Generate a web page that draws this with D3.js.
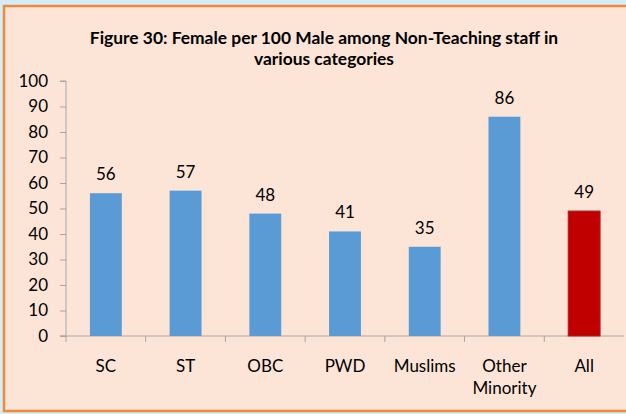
<!DOCTYPE html>
<html>
<head>
<meta charset="utf-8">
<script src="https://cdn.jsdelivr.net/npm/d3@7"></script>
<style>
  body { margin: 0; background: #d4ecf8; }
  svg { display: block; }
  text { font-family: Lato, "Open Sans", sans-serif; fill: #000; }
</style>
</head>
<body>
<div id="chart"></div>
<script>
var categories = ["SC", "ST", "OBC", "PWD", "Muslims", "Other Minority", "All"];
var values = [56, 57, 48, 41, 35, 86, 49];
var yTicks = [0, 10, 20, 30, 40, 50, 60, 70, 80, 90, 100];
var titleLines = ["Figure 30: Female per 100 Male among Non-Teaching staff in", "various categories"];

var svgWidth = 626, svgHeight = 414;
var margin = { top: 81, right: 2, bottom: 78, left: 66 };
var chartWidth = svgWidth - margin.left - margin.right;
var chartHeight = svgHeight - margin.top - margin.bottom;

var svg = d3.select("#chart").append("svg")
    .attr("width", svgWidth)
    .attr("height", svgHeight);

// panel with orange border
svg.append("rect")
    .attr("x", 4).attr("y", 6)
    .attr("width", 640).attr("height", 405)
    .attr("fill", "#fce5d7")
    .attr("stroke", "#f08a3a")
    .attr("stroke-width", 2.5);

svg.selectAll("text.title")
    .data(titleLines)
    .enter().append("text")
    .attr("class", "title")
    .attr("x", 324)
    .attr("y", (d, i) => 44 + i * 21)
    .attr("text-anchor", "middle")
    .attr("font-size", "17.4px")
    .attr("font-weight", "bold")
    .text(d => d);

var chartGroup = svg.append("g")
    .attr("transform", `translate(${margin.left}, ${margin.top})`);

var x = d3.scaleBand()
    .domain(categories)
    .range([0, chartWidth])
    .paddingInner(0.6)
    .paddingOuter(0.3);

var xTicks = d3.scaleBand().domain(categories).range([0, chartWidth]);

var y = d3.scaleLinear()
    .domain([0, 100])
    .range([chartHeight, 0]);

var leftAxis = d3.axisLeft(y).tickValues(yTicks).tickSize(6).tickPadding(12);
var yAxis = chartGroup.append("g").call(leftAxis);
yAxis.select(".domain").attr("stroke", "#a6a6a6").attr("d", `M-6,0H0V${chartHeight}H-6`);
yAxis.selectAll(".tick line").attr("stroke", "#a6a6a6");
yAxis.selectAll(".tick text").attr("font-size", "17px").attr("fill", "#000");

// x axis line with ticks at band boundaries
var xAxisG = chartGroup.append("g").attr("transform", `translate(0, ${chartHeight})`);
xAxisG.append("line")
    .attr("x1", -6).attr("x2", chartWidth)
    .attr("stroke", "#a6a6a6");
xAxisG.selectAll("line.tk")
    .data(categories)
    .enter().append("line")
    .attr("class", "tk")
    .attr("x1", d => xTicks(d)).attr("x2", d => xTicks(d))
    .attr("y1", 0).attr("y2", 6)
    .attr("stroke", "#a6a6a6");

var labels = xAxisG.selectAll("text.cat")
    .data(categories)
    .enter().append("text")
    .attr("class", "cat")
    .attr("text-anchor", "middle")
    .attr("font-size", "17px")
    .attr("x", d => x(d) + x.bandwidth() / 2)
    .attr("y", 36);
labels.each(function(d) {
    var words = d.split(" ");
    var t = d3.select(this);
    words.forEach((w, i) => {
        t.append("tspan")
            .attr("x", x(d) + x.bandwidth() / 2)
            .attr("dy", i === 0 ? 0 : 22)
            .text(w);
    });
});

var bars = chartGroup.selectAll("rect.bar")
    .data(values)
    .enter().append("rect")
    .attr("class", "bar")
    .attr("x", (d, i) => x(categories[i]))
    .attr("y", d => y(d))
    .attr("width", x.bandwidth())
    .attr("height", d => chartHeight - y(d))
    .attr("fill", (d, i) => categories[i] === "All" ? "#c00000" : "#5b9bd5")
    .attr("stroke", (d, i) => categories[i] === "All" ? "#b31d1d" : "none");

chartGroup.selectAll("text.val")
    .data(values)
    .enter().append("text")
    .attr("class", "val")
    .attr("text-anchor", "middle")
    .attr("font-size", "17px")
    .attr("x", (d, i) => x(categories[i]) + x.bandwidth() / 2)
    .attr("y", d => y(d) - 13)
    .text(d => d);
</script>
</body>
</html>
